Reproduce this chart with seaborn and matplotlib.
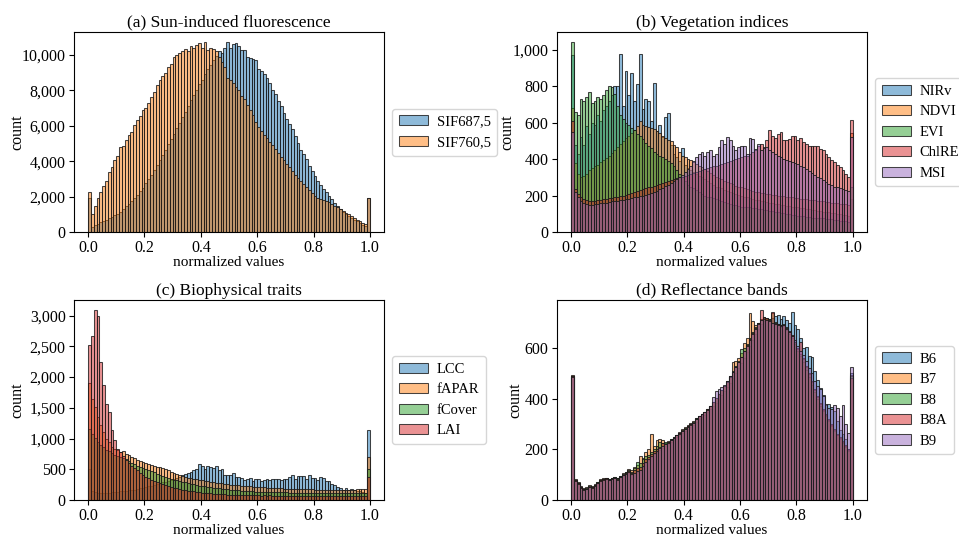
import numpy as np
import pandas as pd
import matplotlib
matplotlib.use("Agg")
import matplotlib.pyplot as plt
import seaborn as sns
from matplotlib.ticker import StrMethodFormatter, MultipleLocator

plt.rcParams['font.family'] = ['Liberation Serif', 'DejaVu Serif']

n_bins = 100
bin_edges = np.linspace(0, 1, n_bins + 1)
bin_centers = (bin_edges[:-1] + bin_edges[1:]) / 2

# ---------------- (a) Sun-induced fluorescence ----------------
sif_names = ["SIF687,5", "SIF760,5"]
sif687 = [1900, 300, 400, 450, 550, 650, 700, 800, 850, 950,
          1000, 1150, 1300, 1450, 1600, 1750, 1950, 2100, 2300, 2500,
          2750, 3000, 3250, 3500, 3800, 4050, 4350, 4650, 4950, 5250,
          5550, 5850, 6150, 6500, 6800, 7100, 7450, 7750, 8050, 8350,
          8600, 8900, 9200, 9450, 9700, 9950, 10200, 10100, 10400, 10750,
          10400, 10600, 10650, 10500, 10300, 10300, 9900, 9850, 9800, 9700,
          9200, 9100, 8900, 8700, 8400, 8000, 7800, 7400, 7100, 6700,
          6400, 6100, 5800, 5400, 5050, 4650, 4400, 4100, 3750, 3450,
          3150, 2900, 2650, 2450, 2250, 2050, 1850, 1650, 1500, 1300,
          1150, 1000, 900, 800, 700, 600, 500, 400, 350, 1900]
sif760 = [2250, 1000, 1450, 1950, 2250, 2600, 2900, 3400, 3700, 4050,
          4300, 4800, 4850, 5200, 5500, 5650, 6050, 6300, 6550, 6900,
          7000, 7300, 7600, 7900, 8300, 8600, 8800, 9000, 9300, 9500,
          9900, 10000, 10100, 10200, 10350, 10250, 10500, 10400, 10550, 10700,
          10400, 10750, 10300, 10400, 10350, 10200, 9900, 9600, 9300, 8700,
          8600, 8400, 8200, 8000, 7700, 7500, 7200, 6900, 6600, 6200,
          5950, 5700, 5500, 5300, 5100, 4900, 4700, 4450, 4250, 4050,
          3850, 3650, 3450, 3250, 3050, 2900, 2700, 2550, 2350, 2200,
          2050, 1950, 1850, 1800, 1750, 1700, 1600, 1500, 1400, 1300,
          1200, 1100, 1000, 900, 800, 700, 600, 500, 450, 1900]

# ---------------- (b) Vegetation indices ----------------
vi_names = ["NIRv", "NDVI", "EVI", "ChlRE", "MSI"]
nirv = [970, 480, 430, 520, 480, 580, 540, 600, 590, 640,
        610, 670, 690, 720, 750, 800, 800, 980, 690, 885,
        750, 875, 720, 810, 980, 676, 730, 718, 610, 820,
        557, 590, 521, 634, 653, 480, 430, 410, 390, 462,
        370, 350, 340, 330, 320, 310, 300, 290, 280, 270,
        260, 250, 245, 240, 230, 225, 220, 215, 210, 205,
        200, 195, 190, 185, 180, 178, 175, 170, 168, 165,
        160, 158, 155, 152, 150, 148, 145, 142, 140, 138,
        135, 132, 130, 128, 125, 122, 120, 118, 115, 112,
        110, 108, 105, 102, 100, 98, 95, 92, 90, 180]
ndvi = [680, 380, 320, 300, 310, 320, 340, 350, 360, 370,
        385, 395, 405, 420, 435, 450, 465, 485, 500, 515,
        530, 545, 560, 580, 612, 590, 580, 575, 570, 567,
        555, 545, 530, 515, 505, 500, 480, 465, 440, 420,
        410, 402, 395, 385, 375, 365, 355, 345, 335, 325,
        315, 305, 298, 290, 282, 275, 268, 262, 255, 250,
        245, 240, 235, 230, 226, 222, 218, 215, 212, 210,
        208, 205, 203, 200, 198, 196, 194, 192, 190, 188,
        186, 184, 182, 180, 178, 176, 174, 172, 170, 168,
        166, 164, 162, 160, 158, 156, 154, 152, 150, 543]
evi = [1045, 660, 640, 730, 720, 740, 770, 710, 720, 740,
       730, 750, 780, 800, 795, 760, 690, 640, 620, 600,
       590, 570, 560, 540, 530, 510, 490, 470, 460, 440,
       430, 420, 410, 400, 390, 380, 360, 340, 320, 300,
       280, 260, 250, 240, 230, 220, 210, 200, 195, 190,
       185, 180, 175, 170, 165, 160, 155, 150, 150, 145,
       140, 140, 135, 135, 130, 130, 125, 125, 120, 120,
       115, 115, 110, 110, 105, 105, 100, 100, 95, 95,
       90, 90, 90, 85, 85, 80, 80, 80, 75, 75,
       70, 70, 70, 65, 65, 60, 60, 60, 55, 250]
chlre = [612, 235, 210, 190, 180, 175, 172, 170, 172, 175,
         178, 180, 182, 185, 188, 192, 195, 198, 200, 205,
         210, 215, 220, 225, 230, 235, 240, 245, 250, 255,
         260, 265, 270, 275, 280, 285, 290, 295, 300, 305,
         310, 315, 320, 325, 330, 335, 340, 345, 350, 355,
         360, 365, 370, 375, 380, 385, 390, 395, 400, 405,
         410, 415, 420, 430, 440, 450, 475, 484, 466, 503,
         561, 525, 517, 539, 548, 503, 503, 512, 530, 525,
         503, 517, 494, 484, 475, 475, 470, 470, 457, 448,
         430, 411, 393, 384, 366, 356, 338, 320, 300, 616]
msi = [548, 220, 190, 170, 160, 155, 150, 150, 152, 155,
       158, 160, 162, 165, 168, 170, 172, 175, 178, 180,
       183, 186, 190, 193, 196, 200, 205, 210, 215, 220,
       228, 236, 244, 252, 260, 270, 280, 290, 300, 315,
       330, 345, 360, 390, 411, 430, 439, 420, 440, 448,
       420, 430, 466, 503, 484, 521, 506, 475, 448, 466,
       470, 475, 430, 517, 512, 457, 484, 448, 460, 466,
       450, 440, 430, 420, 410, 400, 395, 390, 382, 378,
       375, 365, 355, 345, 335, 325, 315, 305, 295, 285,
       275, 265, 258, 250, 245, 240, 235, 230, 225, 521]

# ---------------- (c) Biophysical traits ----------------
bt_names = ["LCC", "fAPAR", "fCover", "LAI"]
lcc = [500, 150, 130, 120, 115, 115, 118, 120, 125, 130,
       135, 140, 145, 150, 155, 160, 170, 180, 190, 200,
       210, 220, 230, 240, 255, 270, 285, 300, 315, 330,
       345, 360, 380, 400, 420, 440, 460, 480, 510, 590,
       560, 500, 560, 540, 520, 560, 480, 500, 402, 402,
       402, 446, 375, 375, 359, 321, 348, 359, 304, 348,
       348, 315, 321, 348, 321, 348, 337, 348, 331, 337,
       348, 375, 402, 348, 391, 391, 386, 348, 413, 359,
       359, 331, 370, 359, 304, 304, 266, 239, 212, 196,
       168, 196, 158, 174, 158, 150, 140, 130, 120, 1136]
fapar = [1897, 1650, 1516, 1353, 1217, 1108, 1000, 946, 864, 837,
         810, 783, 790, 755, 730, 707, 680, 650, 630, 615,
         600, 590, 575, 560, 545, 530, 516, 500, 480, 460,
         435, 420, 405, 390, 378, 365, 355, 345, 335, 325,
         318, 310, 302, 295, 288, 282, 276, 270, 264, 258,
         252, 246, 242, 238, 234, 230, 226, 222, 218, 214,
         210, 207, 204, 201, 198, 195, 192, 190, 188, 186,
         184, 182, 180, 178, 176, 175, 174, 173, 172, 171,
         170, 169, 168, 167, 166, 166, 165, 165, 165, 165,
         165, 166, 167, 168, 170, 172, 175, 178, 180, 707]
fcover = [1150, 1080, 1010, 950, 900, 860, 820, 790, 760, 740,
          720, 700, 690, 670, 640, 600, 580, 560, 540, 520,
          505, 490, 470, 450, 430, 410, 390, 375, 360, 345,
          330, 318, 306, 295, 285, 275, 265, 255, 245, 235,
          228, 220, 213, 206, 200, 194, 188, 182, 177, 172,
          168, 164, 160, 156, 152, 149, 146, 143, 140, 138,
          136, 134, 132, 130, 128, 127, 126, 125, 124, 123,
          122, 121, 120, 119, 118, 118, 117, 117, 116, 116,
          115, 115, 114, 114, 113, 113, 112, 112, 111, 111,
          110, 112, 108, 111, 109, 112, 110, 108, 111, 500]
lai = [2520, 2670, 3100, 2990, 2250, 1870, 1570, 1435, 1136, 973,
       837, 780, 720, 650, 600, 560, 520, 480, 445, 410,
       380, 355, 330, 310, 290, 272, 255, 240, 226, 213,
       200, 190, 180, 170, 162, 154, 146, 139, 132, 126,
       120, 115, 110, 106, 102, 98, 95, 92, 90, 88,
       86, 84, 82, 80, 79, 78, 77, 76, 75, 74,
       73, 72, 74, 71, 73, 70, 72, 70, 71, 69,
       72, 70, 68, 71, 70, 72, 69, 70, 71, 68,
       70, 72, 69, 71, 70, 68, 72, 70, 69, 71,
       70, 69, 72, 70, 68, 71, 70, 69, 72, 380]

# ---------------- (d) Reflectance bands ----------------
rb_names = ["B6", "B7", "B8", "B8A", "B9"]
b6 = [485, 75, 62, 48, 40, 42, 50, 48, 55, 65,
      75, 78, 82, 78, 84, 86, 80, 90, 96, 102,
      108, 100, 105, 112, 118, 130, 145, 158, 170, 182,
      190, 198, 205, 212, 220, 228, 238, 248, 256, 265,
      272, 282, 290, 298, 308, 318, 328, 336, 346, 358,
      372, 385, 400, 415, 430, 445, 462, 480, 500, 520,
      540, 560, 585, 608, 632, 655, 675, 695, 705, 712,
      715, 720, 725, 730, 715, 728, 710, 700, 742, 690,
      677, 640, 600, 603, 567, 563, 510, 475, 442, 415,
      376, 379, 369, 350, 310, 277, 260, 240, 200, 500]
b7 = [495, 82, 70, 55, 48, 50, 58, 55, 62, 72,
      82, 85, 88, 82, 88, 92, 88, 95, 105, 112,
      122, 119, 132, 140, 172, 165, 190, 200, 262, 215,
      235, 240, 238, 225, 232, 240, 250, 258, 268, 280,
      290, 298, 305, 312, 322, 332, 340, 348, 360, 372,
      388, 402, 420, 436, 452, 470, 490, 545, 548, 560,
      580, 620, 640, 740, 705, 690, 700, 712, 718, 714,
      706, 700, 696, 690, 684, 688, 672, 655, 640, 615,
      590, 568, 545, 515, 485, 455, 425, 398, 372, 350,
      330, 310, 292, 272, 255, 240, 225, 210, 195, 495]
b8 = [488, 80, 68, 52, 45, 46, 55, 52, 60, 70,
      80, 82, 86, 82, 88, 90, 85, 94, 102, 110,
      118, 112, 125, 150, 148, 160, 172, 178, 190, 200,
      215, 228, 225, 228, 230, 240, 248, 258, 266, 275,
      284, 294, 300, 308, 322, 332, 338, 346, 358, 370,
      386, 402, 420, 434, 450, 468, 488, 510, 530, 550,
      595, 600, 615, 640, 662, 682, 700, 716, 722, 720,
      714, 740, 702, 696, 690, 694, 682, 664, 648, 622,
      598, 576, 555, 526, 496, 466, 436, 406, 380, 356,
      336, 316, 296, 276, 258, 244, 228, 214, 196, 490]
b8a = [490, 78, 66, 50, 42, 44, 52, 50, 58, 68,
       80, 82, 86, 80, 86, 88, 82, 92, 100, 106,
       115, 108, 118, 125, 130, 145, 160, 170, 182, 192,
       200, 210, 224, 222, 228, 238, 246, 256, 265, 274,
       282, 292, 300, 306, 320, 330, 340, 347, 358, 370,
       386, 402, 418, 434, 450, 466, 487, 506, 526, 546,
       566, 590, 612, 636, 660, 680, 700, 752, 722, 720,
       712, 742, 700, 695, 690, 692, 680, 666, 650, 625,
       600, 625, 560, 530, 500, 470, 440, 410, 385, 360,
       340, 320, 300, 280, 262, 248, 232, 218, 200, 480]
b9 = [485, 76, 64, 48, 40, 42, 50, 48, 56, 66,
      76, 80, 84, 78, 84, 86, 80, 90, 98, 104,
      110, 104, 108, 115, 120, 135, 150, 162, 175, 186,
      195, 205, 212, 220, 226, 236, 246, 255, 262, 272,
      280, 290, 298, 306, 318, 330, 338, 346, 356, 370,
      405, 430, 440, 445, 455, 470, 488, 505, 525, 545,
      565, 588, 610, 632, 655, 675, 695, 710, 715, 712,
      706, 700, 696, 690, 686, 690, 676, 662, 648, 630,
      610, 590, 572, 548, 520, 500, 470, 450, 440, 410,
      380, 362, 360, 376, 363, 330, 376, 300, 264, 525]

panels = [
    ("(a) Sun-induced fluorescence", sif_names, [sif687, sif760], 2000, -0.158),
    ("(b) Vegetation indices", vi_names, [nirv, ndvi, evi, chlre, msi], 200, -0.133),
    ("(c) Biophysical traits", bt_names, [lcc, fapar, fcover, lai], 500, -0.158),
    ("(d) Reflectance bands", rb_names, [b6, b7, b8, b8a, b9], 200, -0.107),
]

fig, axes = plt.subplots(2, 2, figsize=(9.59, 5.36), dpi=100)
fig.subplots_adjust(left=0.0772, right=0.904, bottom=0.0672, top=0.940,
                    wspace=0.558, hspace=0.34)

for ax, (title, names, series, ystep, ylab_x) in zip(axes.flat, panels):
    palette = sns.color_palette("tab10", len(names))
    for name, s, col in zip(names, series, palette):
        assert len(s) == n_bins, (title, name, len(s))
        df = pd.DataFrame({"value": bin_centers,
                           "count": np.asarray(s, dtype=float)})
        sns.histplot(data=df, x="value", weights="count", bins=n_bins,
                     binrange=(0, 1), color=col, alpha=0.5, label=name,
                     linewidth=0.75, edgecolor=(0.1, 0.1, 0.1, 0.8), ax=ax)
    ax.set_title(title, fontsize=12.5, pad=4)
    ax.set_xlabel("normalized values", fontsize=11, labelpad=0)
    ax.set_ylabel("count", fontsize=11.5)
    ax.yaxis.set_label_coords(ylab_x, 0.5)
    ax.xaxis.set_major_locator(MultipleLocator(0.2))
    ax.xaxis.set_major_formatter(StrMethodFormatter("{x:.1f}"))
    ax.yaxis.set_major_locator(MultipleLocator(ystep))
    ax.yaxis.set_major_formatter(StrMethodFormatter("{x:,.0f}"))
    ax.tick_params(labelsize=11.5, pad=2.5)
    ax.legend(loc="center left", bbox_to_anchor=(1.0, 0.5), fontsize=10.5,
              handletextpad=0.6, borderpad=0.45, borderaxespad=0.55)

fig.savefig("out.png", dpi=100)
